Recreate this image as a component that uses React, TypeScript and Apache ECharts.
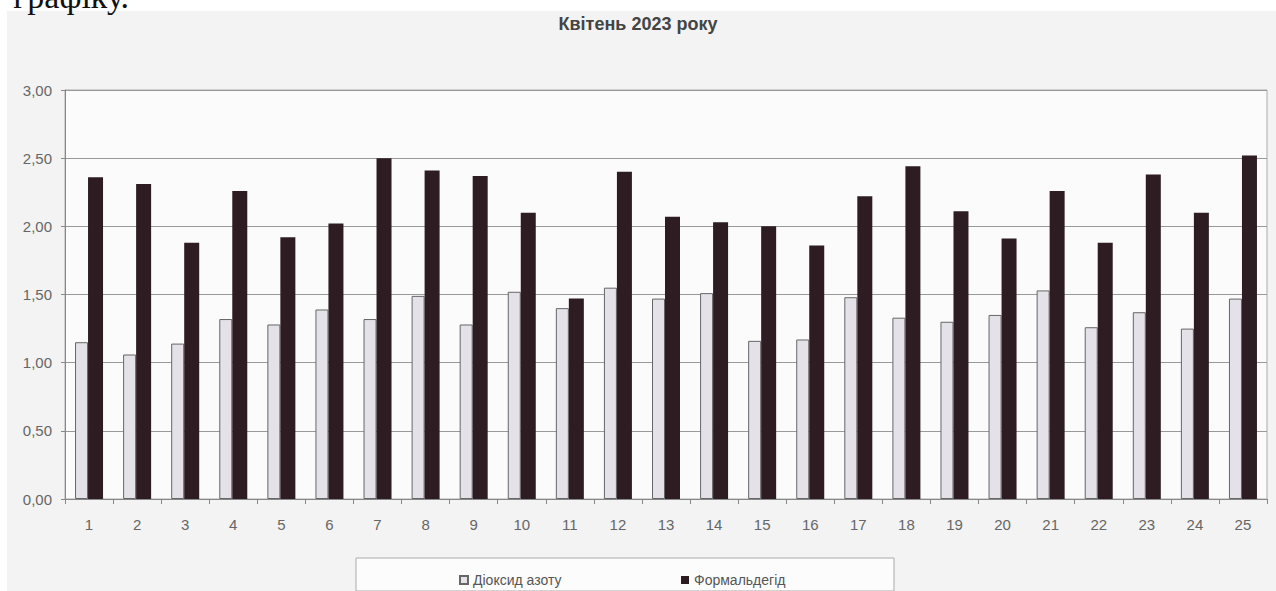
import React, { useEffect, useRef } from "react";
import * as echarts from "echarts";

const titleText = "Квітень 2023 року";
const headingFragment = "графіку.";
const days = [
  "1", "2", "3", "4", "5", "6", "7", "8", "9", "10", "11", "12", "13",
  "14", "15", "16", "17", "18", "19", "20", "21", "22", "23", "24", "25",
];
const seriesNames = ["Діоксид азоту", "Формальдегід"];
const nitrogenDioxide = [
  1.15, 1.06, 1.14, 1.32, 1.28, 1.39, 1.32, 1.49, 1.28, 1.52, 1.4, 1.55, 1.47,
  1.51, 1.16, 1.17, 1.48, 1.33, 1.3, 1.35, 1.53, 1.26, 1.37, 1.25, 1.47,
];
const formaldehyde = [
  2.36, 2.31, 1.88, 2.26, 1.92, 2.02, 2.5, 2.41, 2.37, 2.1, 1.47, 2.4, 2.07,
  2.03, 2.0, 1.86, 2.22, 2.44, 2.11, 1.91, 2.26, 1.88, 2.38, 2.1, 2.52,
];
const yMin = 0;
const yMax = 3;
const yStep = 0.5;

const FONT = "'Liberation Sans', Arial, sans-serif";

export default function App() {
  const ref = useRef<HTMLDivElement>(null);

  useEffect(() => {
    document.body.style.margin = "0";
    if (!ref.current) return;
    const chart = echarts.init(ref.current, undefined, { renderer: "svg" });
    chart.setOption({
      animation: false,
      backgroundColor: "#ffffff",
      textStyle: { fontFamily: FONT },
      title: {
        text: titleText,
        left: "center",
        top: 10,
        textStyle: { fontSize: 18, fontWeight: "bold", color: "#444", fontFamily: FONT },
      },
      graphic: [
        {
          type: "rect",
          z: -10,
          silent: true,
          shape: { x: 7, y: 11, width: 1276, height: 600 },
          style: { fill: "#f3f3f3" },
        },
        {
          type: "rect",
          z: -5,
          silent: true,
          shape: { x: 356, y: 558, width: 538, height: 33 },
          style: { fill: "#fcfcfc", stroke: "#aaaaaa", lineWidth: 1 },
        },
        {
          type: "text",
          z: 10,
          silent: true,
          x: 129,
          y: -4,
          style: {
            text: headingFragment,
            font: "34px 'Liberation Serif', 'Times New Roman', serif",
            fill: "#111",
            align: "right",
            verticalAlign: "middle",
          },
        },
      ],
      legend: [
        {
          data: [seriesNames[0]],
          left: 454,
          top: 568,
          icon: "rect",
          itemWidth: 8,
          itemHeight: 8,
          itemGap: 4,
          textStyle: { fontSize: 14, color: "#555", fontFamily: FONT },
        },
        {
          data: [seriesNames[1]],
          left: 676,
          top: 568,
          icon: "rect",
          itemWidth: 8,
          itemHeight: 8,
          itemGap: 4,
          textStyle: { fontSize: 14, color: "#555", fontFamily: FONT },
        },
      ],
      grid: {
        left: 65,
        right: 9,
        top: 90,
        bottom: 92,
        show: true,
        backgroundColor: "#fbfbfb",
        borderColor: "#aaaaaa",
        borderWidth: 1,
      },
      xAxis: {
        type: "category",
        data: days,
        axisLine: { lineStyle: { color: "#888", width: 1 } },
        axisTick: { show: true, alignWithLabel: false, length: 5, lineStyle: { color: "#888" } },
        axisLabel: { margin: 18, fontSize: 15, color: "#666", fontFamily: FONT },
      },
      yAxis: {
        type: "value",
        min: yMin,
        max: yMax,
        interval: yStep,
        axisLine: { show: true, lineStyle: { color: "#888", width: 1 } },
        axisTick: { show: true, length: 4, lineStyle: { color: "#888" } },
        splitLine: { show: true, lineStyle: { color: "#999", width: 1 } },
        axisLabel: {
          margin: 13,
          fontSize: 15,
          color: "#666",
          fontFamily: FONT,
          formatter: (v: number) => v.toFixed(2).replace(".", ","),
        },
      },
      series: [
        {
          name: seriesNames[0],
          type: "bar",
          data: nitrogenDioxide,
          barWidth: 13,
          barGap: "0%",
          itemStyle: { color: "#e4e2e8", borderColor: "#666", borderWidth: 1 },
        },
        {
          name: seriesNames[1],
          type: "bar",
          data: formaldehyde,
          barWidth: 15,
          barGap: "0%",
          itemStyle: { color: "#2d1d22" },
        },
      ],
    });
    return () => chart.dispose();
  }, []);

  return (
    <div
      ref={ref}
      style={{ position: "absolute", left: 0, top: 0, width: 1276, height: 591 }}
    />
  );
}
